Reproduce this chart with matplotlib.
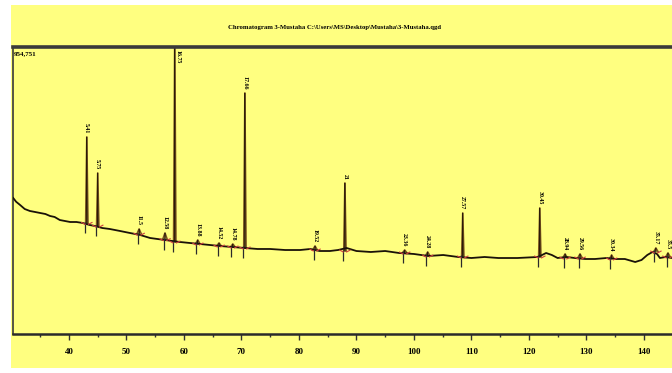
import numpy as np
import matplotlib.pyplot as plt
from matplotlib.patches import Rectangle

# baseline of the trace (retention axis, counts)
base_x = [30.3, 30.8, 31.5, 32.3, 33.2, 34.1, 35.0, 35.9, 36.7, 37.5, 38.4, 39.3, 40.2, 41.3,
          42.4, 43.6, 44.5, 45.8, 47.1, 48.9, 50.6, 52.4, 54.1, 55.4, 56.7, 58.0, 59.3, 61.0,
          62.8, 64.5, 66.3, 68.4, 70.6, 72.8, 75.0, 77.6, 80.2, 82.0, 83.6, 85.4, 86.8, 88.3,
          90.0, 92.5, 95.0, 97.4, 100.0, 102.5, 105.1, 107.7, 110.0, 112.3, 114.7, 118.0, 121.6,
          123.0, 124.0, 125.0, 126.5, 128.0, 129.8, 131.5, 133.5, 135.2, 136.7, 138.5, 139.6,
          140.6, 141.5, 142.3, 142.8, 143.8, 144.9]
base_y = [452400, 440000, 429100, 415800, 409200, 405900, 402500, 399200, 392600, 389300, 379200,
          375900, 372600, 372600, 369300, 362600, 359300, 352600, 349300, 342600, 336000, 329300,
          319400, 316000, 312700, 309400, 306100, 302800, 299400, 296100, 292700, 289400, 286100,
          282800, 282800, 279400, 279400, 282800, 276100, 276100, 279400, 286100, 276100, 272800,
          276100, 269500, 266200, 259500, 262800, 256200, 252800, 256200, 252800, 252800, 256200,
          269500, 262800, 252800, 256200, 252800, 249500, 249500, 252800, 249500, 249500, 239500,
          246200, 262800, 272800, 266200, 252800, 256200, 252800]

# labelled peaks: retention, apex, baseline under peak, label
peak_rt = [43.1, 45.0, 52.2, 56.7, 58.4, 62.4, 66.1, 68.5, 70.6, 82.8, 88.0, 98.4, 102.4,
           108.5, 121.9, 126.3, 128.9, 134.4, 142.1, 144.2]
peak_top = [655400, 535600, 349300, 336000, 1000000, 312700, 302800, 299400, 801700, 292700,
            502300, 279400, 272800, 402500, 419200, 266200, 266200, 262800, 286100, 269500]
peak_base = [368000, 359000, 332000, 314000, 306000, 299400, 292700, 289400, 286100, 279400,
             276000, 269500, 259500, 256200, 256200, 252800, 252800, 249500, 272800, 256200]
peak_lbl = ['5.41', '5.75', '11.5', '12.58', '16.75', '13.88', '14.52', '14.78', '17.66',
            '19.52', '21', '23.36', '24.28', '27.57', '30.45', '28.94', '29.56', '30.34',
            '35.17', '35.5']

ymax = 954751

fig = plt.figure(figsize=(6.72, 3.73), dpi=100, facecolor='white')
fig.patches.append(Rectangle((11/672, 5/373), 1, 1 - 10/373, transform=fig.transFigure,
                             facecolor='#ffff80', edgecolor='none', zorder=-10))
fig.text(335/672, 1 - 27/373,
         'Chromatogram 3-Mustaha C:\\Users\\MS\\Desktop\\Mustaha\\3-Mustaha.qgd',
         ha='center', va='center', fontsize=4.8, family='Liberation Serif', weight='bold')

ax = fig.add_axes([13/672, 1 - 334/373, 1 - 13/672, 287/373])
ax.set_facecolor('#ffff80')
ax.set_zorder(5)

ax.plot(base_x, base_y, color='#1a1208', lw=1.3, zorder=3)
for rt, top, b, lab in zip(peak_rt, peak_top, peak_base, peak_lbl):
    w = 0.2 if top - b > 60000 else 0.4
    ax.plot([rt - w, rt, rt + w], [b, top, b], color='#7a5420', lw=1.2, zorder=2)
    ax.plot([rt - 0.06, rt, rt + 0.06], [b, top, b], color='#2a1a08', lw=0.5, zorder=2)
    ax.vlines(rt - 0.25, b - 33000, b + 5000, color='#2a2a2a', lw=0.9, zorder=4)
    ax.plot([rt - 0.9, rt - 0.3], [b + 3000, b - 3000], color='#d04040', lw=0.8, zorder=4)
    ax.plot([rt + 0.3, rt + 0.9], [b - 3000, b + 3000], color='#d04040', lw=0.8, zorder=4)
    ty = min(top, 945000) + 12000 if top < ymax else ymax - 10000
    xo = 0.55 if top >= ymax else 0
    ax.text(rt + xo, ty, lab, rotation=270, fontsize=4.2,
            family='Liberation Serif', weight='bold',
            ha='center', va='bottom' if top < ymax else 'top', zorder=5)

ax.text(30.4, ymax - 12000, '954,751', fontsize=5, family='Liberation Serif',
        weight='bold', ha='left', va='top')

ax.set_xlim(30.26, 144.9)
ax.set_ylim(0, ymax)
ax.set_xticks(range(40, 141, 10))
ax.set_xticks(range(35, 145, 5), minor=True)
ax.set_yticks([])
ax.tick_params(axis='x', which='major', length=4, width=1, color='#333333', pad=6,
               labelsize=6.5)
ax.tick_params(axis='x', which='minor', length=2.5, width=1, color='#333333')
for t in ax.get_xticklabels():
    t.set_family('Liberation Serif')
    t.set_weight('bold')

ax.spines['right'].set_visible(False)
ax.spines['top'].set_linewidth(2.6)
ax.spines['top'].set_color('#3a3a3a')
ax.spines['left'].set_linewidth(1.4)
ax.spines['left'].set_color('#555544')
ax.spines['bottom'].set_linewidth(1.8)
ax.spines['bottom'].set_color('#2a2a2a')

plt.savefig('out.png', dpi=100, facecolor='white')
